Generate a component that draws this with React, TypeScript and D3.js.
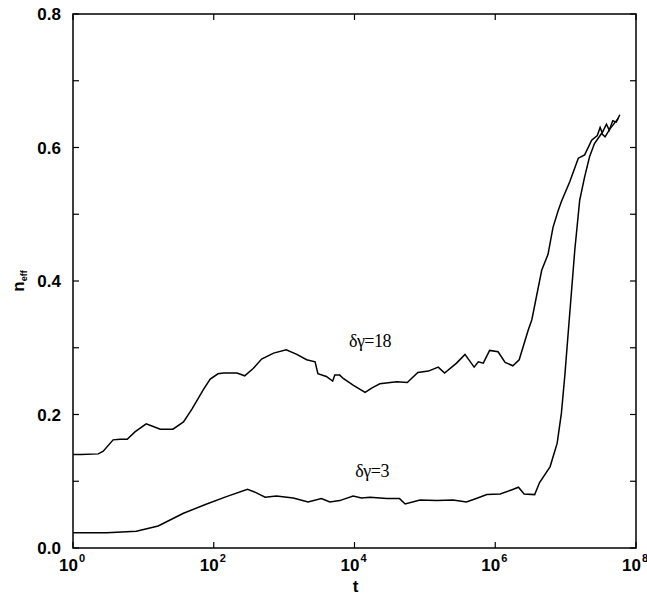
import React from "react";
import * as d3 from "d3";

// [log10 t, n_eff]
const curve18: [number, number][] = [
  [0, 0.14], [0.11, 0.14], [0.36, 0.141], [0.43, 0.145], [0.57, 0.162], [0.67, 0.163],
  [0.77, 0.163], [0.88, 0.174], [1.04, 0.186], [1.14, 0.182], [1.24, 0.178], [1.42, 0.178],
  [1.57, 0.189], [1.69, 0.208], [1.85, 0.237], [1.95, 0.253], [2.06, 0.261], [2.14, 0.262],
  [2.33, 0.262], [2.44, 0.258], [2.56, 0.269], [2.68, 0.283], [2.85, 0.292], [3.03, 0.297],
  [3.18, 0.29], [3.32, 0.282], [3.44, 0.279], [3.48, 0.261], [3.6, 0.257], [3.69, 0.25],
  [3.72, 0.259], [3.79, 0.259], [3.84, 0.254], [3.98, 0.244], [4.15, 0.233], [4.25, 0.24],
  [4.36, 0.246], [4.6, 0.249], [4.75, 0.248], [4.9, 0.263], [5.05, 0.265], [5.19, 0.271],
  [5.28, 0.262], [5.45, 0.277], [5.57, 0.29], [5.7, 0.271], [5.76, 0.279], [5.83, 0.277],
  [5.92, 0.296], [6.04, 0.294], [6.14, 0.278], [6.25, 0.273], [6.34, 0.282], [6.47, 0.327],
  [6.52, 0.342], [6.66, 0.416], [6.75, 0.44], [6.82, 0.48], [6.89, 0.504], [6.94, 0.519],
  [7.06, 0.549], [7.18, 0.584], [7.27, 0.589], [7.37, 0.611], [7.45, 0.618], [7.49, 0.63],
  [7.52, 0.622], [7.58, 0.635], [7.62, 0.626], [7.67, 0.64], [7.72, 0.638], [7.77, 0.649],
];

const curve3: [number, number][] = [
  [0, 0.023], [0.11, 0.023], [0.48, 0.023], [0.9, 0.025], [1.21, 0.033], [1.57, 0.052],
  [1.9, 0.066], [2.18, 0.077], [2.48, 0.088], [2.6, 0.083], [2.73, 0.076], [2.89, 0.078],
  [3.13, 0.075], [3.34, 0.069], [3.53, 0.074], [3.65, 0.069], [3.79, 0.071], [3.98, 0.078],
  [4.1, 0.075], [4.22, 0.076], [4.46, 0.074], [4.64, 0.074], [4.72, 0.066], [4.93, 0.072],
  [5.17, 0.071], [5.4, 0.072], [5.59, 0.069], [5.75, 0.075], [5.88, 0.08], [6.07, 0.081],
  [6.23, 0.087], [6.33, 0.091], [6.41, 0.081], [6.56, 0.08], [6.63, 0.098], [6.78, 0.122],
  [6.88, 0.157], [6.94, 0.202], [6.99, 0.26], [7.04, 0.327], [7.13, 0.446], [7.2, 0.521],
  [7.27, 0.556], [7.34, 0.586], [7.41, 0.606], [7.51, 0.621], [7.56, 0.616], [7.63, 0.628],
  [7.75, 0.644],
];

const xExponents = [0, 2, 4, 6, 8];
const yMajor = [0, 0.2, 0.4, 0.6, 0.8];
const yMinor = [0.1, 0.3, 0.5, 0.7];
const labels = [
  { text: "δγ=18", t: 4.22, n: 0.301 },
  { text: "δγ=3", t: 4.25, n: 0.106 },
];

const W = 647;
const H = 597;
const margin = { top: 14, right: 11, bottom: 49, left: 73 };
const tickLen = 6;
const sans = "Arial, Helvetica, 'Liberation Sans', sans-serif";

export default function App() {
  const x = d3
    .scaleLog()
    .domain([1, 1e8])
    .range([margin.left, W - margin.right]);
  const y = d3
    .scaleLinear()
    .domain([0, 0.8])
    .range([H - margin.bottom, margin.top]);

  const line = d3
    .line<[number, number]>()
    .x((d) => x(Math.pow(10, d[0])))
    .y((d) => y(d[1]));

  const x0 = margin.left;
  const x1 = W - margin.right;
  const y0 = H - margin.bottom;
  const y1 = margin.top;

  return (
    <div style={{ position: "absolute", left: 0, top: 0 }}>
      <svg width={W} height={H} style={{ display: "block", background: "#fff" }}>
        <rect x={x0} y={y1} width={x1 - x0} height={y0 - y1} fill="none" stroke="#000" strokeWidth={1.5} />

        {xExponents.map((e) => {
          const px = x(Math.pow(10, e));
          return (
            <g key={"x" + e}>
              <line x1={px} x2={px} y1={y0} y2={y0 - tickLen} stroke="#000" strokeWidth={1.2} />
              <line x1={px} x2={px} y1={y1} y2={y1 + tickLen} stroke="#000" strokeWidth={1.2} />
              <text x={px + 5} y={y0 + 23} textAnchor="end" fontFamily={sans} fontWeight="bold" fontSize={17}>
                10
              </text>
              <text x={px + 6} y={y0 + 14} fontFamily={sans} fontWeight="bold" fontSize={11}>
                {e}
              </text>
            </g>
          );
        })}

        {yMajor.concat(yMinor).map((v) => (
          <g key={"yt" + v}>
            <line x1={x0} x2={x0 + tickLen} y1={y(v)} y2={y(v)} stroke="#000" strokeWidth={1.2} />
            <line x1={x1} x2={x1 - tickLen} y1={y(v)} y2={y(v)} stroke="#000" strokeWidth={1.2} />
          </g>
        ))}

        {yMajor.map((v) => (
          <text
            key={"yl" + v}
            x={x0 - 12}
            y={y(v)}
            dy="0.36em"
            textAnchor="end"
            fontFamily={sans}
            fontWeight="bold"
            fontSize={17}
          >
            {v.toFixed(1)}
          </text>
        ))}

        <text x={(x0 + x1) / 2 + 1} y={H - 5} textAnchor="middle" fontFamily={sans} fontWeight="bold" fontSize={17}>
          t
        </text>
        <g transform={`translate(24, ${y(0.4)}) rotate(-90)`}>
          <text textAnchor="middle" fontFamily={sans} fontWeight="bold" fontSize={17}>
            n
            <tspan fontSize={9} dy={3}>eff</tspan>
          </text>
        </g>

        <path d={line(curve18) || ""} fill="none" stroke="#000" strokeWidth={1.5} />
        <path d={line(curve3) || ""} fill="none" stroke="#000" strokeWidth={1.5} />

        {labels.map((l) => (
          <text
            key={l.text}
            x={x(Math.pow(10, l.t))}
            y={y(l.n)}
            textAnchor="middle"
            fontFamily="'Liberation Serif', 'Times New Roman', serif"
            fontSize={18}
            letterSpacing={-0.5}
          >
            {l.text}
          </text>
        ))}
      </svg>
    </div>
  );
}
